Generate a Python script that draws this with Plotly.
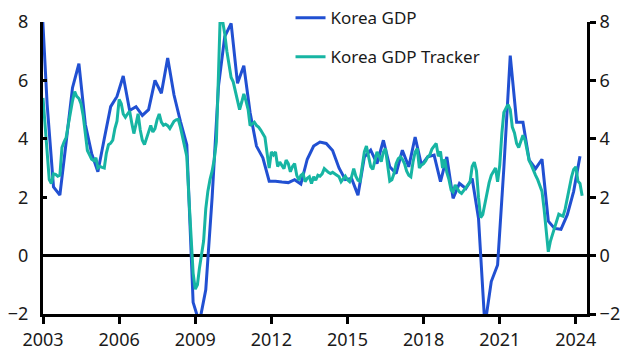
import pandas as pd
import plotly.graph_objects as go

# Korea GDP, % y/y, quarterly from 2002Q4 to 2024Q1
gdp_start_quarter = "2002Q4"
gdp_values = [
    9.3,
    5.2, 2.35, 2.07, 3.9,
    5.75, 6.57, 4.5, 3.5,
    2.87, 4.0, 5.1, 5.45,
    6.15, 4.97, 5.1, 4.8,
    5.0, 6.0, 5.56, 6.77,
    5.5, 4.6, 3.8, -1.6,
    -2.3, -1.17, 2.0, 5.8,
    7.5, 7.95, 5.9, 6.5,
    4.9, 3.75, 3.35, 2.55,
    2.55, 2.52, 2.5, 2.6,
    2.45, 3.3, 3.75, 3.89,
    3.84, 3.6, 3.0, 2.6,
    2.64, 2.07, 3.38, 3.61,
    3.15, 3.95, 3.04, 2.81,
    3.61, 3.04, 4.06, 3.1,
    3.38, 3.44, 2.53, 3.38,
    1.96, 2.47, 2.3, 2.64,
    1.28, -2.4, -0.89, -0.32,
    3.0, 6.85, 4.57, 4.57,
    3.27, 2.98, 3.3, 1.18,
    0.93, 0.9, 1.4, 2.2,
    3.4,
]

# Korea GDP Tracker, % y/y, monthly from Jan 2003 to Apr 2024
tracker_start_month = "2003-01-01"
tracker_values = [
    # 2003
    5.4, 4.4, 3.45, 2.6, 2.47, 2.8, 2.78, 2.72, 2.75, 3.7, 3.9, 4.05,
    # 2004
    4.5, 5.0, 5.3, 5.62, 5.45, 5.38, 5.2, 4.8, 4.2, 3.6, 3.45, 3.3,
    # 2005
    3.25, 3.35, 3.0, 3.05, 3.02, 3.0, 3.5, 3.8, 3.85, 3.95, 4.35, 4.6,
    # 2006
    5.35, 5.2, 4.85, 4.74, 4.85, 4.95, 4.55, 4.18, 4.5, 4.86, 4.3, 3.95,
    # 2007
    3.8, 4.05, 4.25, 4.46, 4.23, 4.35, 4.65, 4.85, 4.57, 4.46, 4.5, 4.45,
    # 2008
    4.35, 4.5, 4.6, 4.65, 4.67, 4.4, 4.1, 3.7, 3.4, 2.0, 0.7, -0.6,
    # 2009
    -1.15, -1.0, -0.45, 0.05, 0.5, 1.6, 2.2, 2.6, 2.9, 3.3, 3.9, 6.2,
    # 2010
    8.7, 8.0, 7.6, 7.0, 6.5, 6.1, 5.95, 5.6, 5.3, 5.0, 5.26, 5.54,
    # 2011
    5.3, 5.0, 4.45, 4.5, 4.57, 4.46, 4.4, 4.3, 4.15, 4.05, 3.5, 3.0,
    # 2012
    3.55, 3.45, 3.55, 3.05, 3.2, 3.1, 2.98, 3.27, 3.15, 2.87, 3.05, 3.15,
    # 2013
    2.75, 2.58, 2.75, 2.81, 2.53, 2.65, 2.7, 2.47, 2.7, 2.58, 2.75, 2.72,
    # 2014
    2.8, 2.98, 2.9, 2.85, 2.81, 2.85, 2.8, 2.75, 2.7, 2.53, 2.65, 2.72,
    # 2015
    2.6, 2.53, 2.7, 2.98, 2.72, 2.58, 2.55, 3.1, 3.55, 3.75, 3.4, 3.05,
    # 2016
    2.95, 3.3, 3.55, 3.4, 3.22, 3.55, 3.67, 3.1, 2.55, 2.6, 2.81, 3.15,
    # 2017
    3.32, 3.38, 3.3, 3.15, 2.9, 2.75, 2.7, 3.2, 3.55, 3.67, 3.0, 3.1,
    # 2018
    3.15, 3.25, 3.38, 3.45, 3.65, 3.75, 3.84, 3.4, 3.57, 3.0, 3.3, 2.85,
    # 2019
    2.6, 2.25, 2.18, 2.42, 2.3, 2.18, 2.13, 2.22, 2.33, 2.42, 2.53, 3.05,
    # 2020
    3.2, 2.9, 2.0, 1.3, 1.4, 1.75, 2.2, 2.5, 2.75, 2.9, 3.0, 2.53,
    # 2021
    3.1, 4.2, 4.9, 5.05, 5.17, 5.0, 4.4, 4.2, 3.84, 3.7, 3.9, 4.12,
    # 2022
    3.95, 3.5, 3.25, 3.1, 2.9, 2.75, 2.6, 2.4, 2.2, 1.6, 0.8, 0.13,
    # 2023
    0.5, 0.72, 0.95, 1.2, 1.42, 1.38, 1.35, 1.6, 2.0, 2.35, 2.7, 2.95,
    # 2024
    3.04, 2.55, 2.47, 2.05,
]

series_names = ["Korea GDP", "Korea GDP Tracker"]
y_ticks = [-2, 0, 2, 4, 6, 8]
x_tick_years = ["2003", "2006", "2009", "2012", "2015", "2018", "2021", "2024"]

BLUE = "#2150d2"
TEAL = "#17b5a3"
FONT = "Noto Sans"

gdp_dates = (
    pd.period_range(gdp_start_quarter, periods=len(gdp_values), freq="Q")
    .asfreq("M", how="end")
    .to_timestamp()
)
tracker_dates = pd.date_range(tracker_start_month, periods=len(tracker_values), freq="MS")

fig = go.Figure()
fig.add_trace(go.Scatter(
    x=gdp_dates, y=gdp_values, mode="lines", name=series_names[0],
    line=dict(color=BLUE, width=3), legendgroup="a",
))
fig.add_trace(go.Scatter(
    x=tracker_dates, y=tracker_values, mode="lines", name=series_names[1],
    line=dict(color=TEAL, width=3), legendgroup="b",
))
# invisible trace to carry the right-hand axis
fig.add_trace(go.Scatter(
    x=tracker_dates[:1], y=tracker_values[:1], yaxis="y2", mode="lines",
    line=dict(width=0), showlegend=False, hoverinfo="skip",
))

tick_dates = [f"{y}-01-01" for y in x_tick_years]

fig.update_layout(
    width=628, height=353,
    margin=dict(l=43, r=41, t=22, b=39, autoexpand=False),
    paper_bgcolor="white", plot_bgcolor="white",
    font=dict(family=FONT, size=18, color="#1a1a1a"),
    showlegend=True,
    legend=dict(
        x=0.455, y=1.075, xanchor="left", yanchor="top",
        bgcolor="rgba(0,0,0,0)", font=dict(size=17),
        traceorder="grouped", tracegroupgap=14,
    ),
    xaxis=dict(
        type="date",
        range=["2003-01-01", "2024-06-10"],
        tickvals=tick_dates, ticktext=x_tick_years,
        showline=True, linecolor="black", linewidth=3,
        ticks="outside", ticklen=7, tickwidth=3, tickcolor="black",
        showgrid=False, zeroline=False, automargin=False,
    ),
    yaxis=dict(
        range=[-2, 8], tickvals=y_ticks,
        showline=True, linecolor="black", linewidth=3,
        ticks="inside", ticklen=4, tickwidth=3, tickcolor="black",
        showgrid=False, automargin=False,
        zeroline=True, zerolinecolor="black", zerolinewidth=3,
        ticklabelstandoff=8,
    ),
    yaxis2=dict(
        range=[-2, 8], tickvals=y_ticks, overlaying="y", side="right",
        showline=True, linecolor="black", linewidth=3,
        ticks="outside", ticklen=6, tickwidth=3, tickcolor="black",
        showgrid=False, zeroline=False, automargin=False,
    ),
)

fig.write_html("out.html")
